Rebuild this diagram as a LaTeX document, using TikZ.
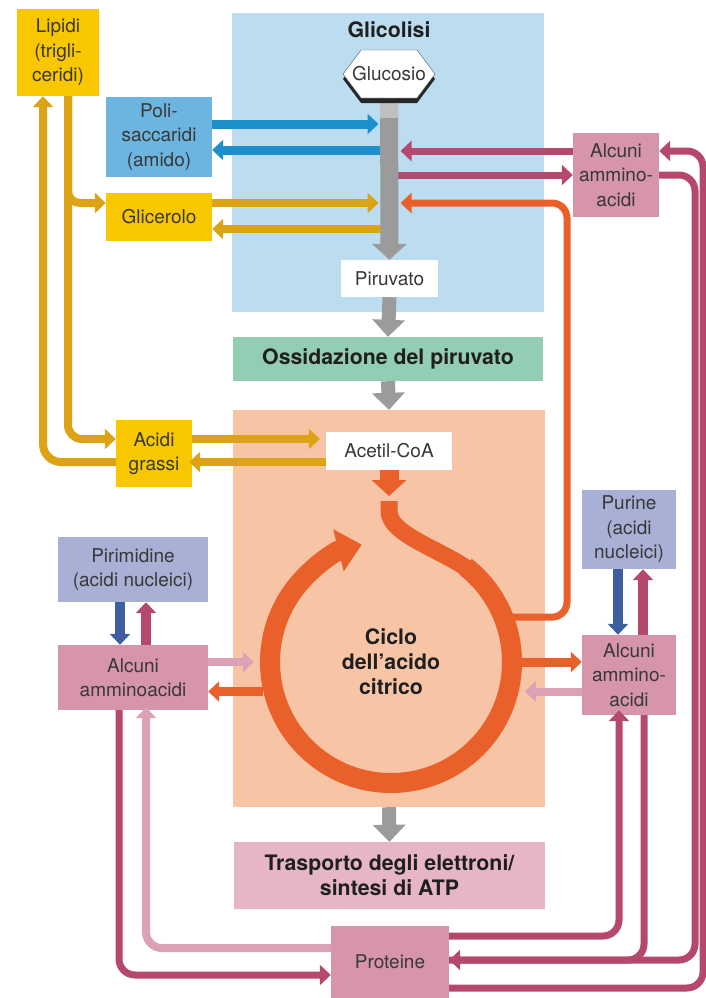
\documentclass[tikz,border=0pt]{standalone}
\usepackage{fontspec}
\setmainfont{TeX Gyre Heros}
\usetikzlibrary{arrows.meta,calc}

\definecolor{glycblue}{HTML}{BCDDF0}
\definecolor{polyblue}{HTML}{6CB5E1}
\definecolor{arrblue}{HTML}{1B90CB}
\definecolor{lipyellow}{HTML}{F9C700}
\definecolor{lipgold}{HTML}{DCA314}
\definecolor{oxgreen}{HTML}{93CDB4}
\definecolor{tcapeach}{HTML}{F7C5A6}
\definecolor{tcaorange}{HTML}{E9602B}
\definecolor{etcpink}{HTML}{E6B5C7}
\definecolor{aapink}{HTML}{D795AA}
\definecolor{aamagenta}{HTML}{B4486F}
\definecolor{aalight}{HTML}{DBA1B6}
\definecolor{nucblue}{HTML}{A9B0D6}
\definecolor{nucdark}{HTML}{3E5F9F}
\definecolor{flowgray}{HTML}{9B9B9B}

\tikzset{
  txt/.style={font=\fontsize{19}{24.5}\selectfont, text=black!78, align=center, inner sep=0pt},
  hdr/.style={font=\fontsize{21.3}{25}\selectfont\bfseries, text=black!88, align=center, inner sep=0pt},
  arr/.style={-{Triangle[width=20pt,length=11pt]}},
  blueflow/.style={arr, draw=arrblue, line width=9pt},
  goldflow/.style={arr, draw=lipgold, line width=8pt},
  magflow/.style={arr, draw=aamagenta, line width=7pt},
  magline/.style={draw=aamagenta, line width=7pt},
  lightflow/.style={arr, draw=aalight, line width=8pt},
  orflow/.style={arr, draw=tcaorange, line width=9pt},
  nucflow/.style={arr, line width=10pt},
  grayflow/.style={draw=flowgray, line width=14pt, -{Triangle[width=32pt,length=17pt]}}
}

\begin{document}
\begin{tikzpicture}[x=1pt,y=1pt]
\useasboundingbox (0,0) rectangle (705,-998);

% stages
\node[fill=glycblue, minimum width=312pt, minimum height=299pt] (glyc) at (388,-162.5) {};
\node[hdr] (glyctitle) at (389,-30) {Glicolisi};
\node[hdr, fill=oxgreen, minimum width=310pt, minimum height=44pt] (ossid) at (388,-359) {Ossidazione del piruvato};
\node[fill=tcapeach, minimum width=312pt, minimum height=397pt] (tca) at (389,-608.5) {};
\node[hdr, fill=etcpink, minimum width=311pt, minimum height=67pt] (trasp) at (389.5,-875.5) {Trasporto degli elettroni/\\sintesi di ATP};

% molecules
\node[txt, fill=white, minimum width=97pt, minimum height=37pt] (piru) at (389.5,-278.5) {Piruvato};
\node[txt, fill=white, minimum width=126pt, minimum height=38pt] (ace) at (389,-451) {Acetil-CoA};
\node[txt, fill=lipyellow, minimum width=82pt, minimum height=87pt] (lip) at (58,-52.5) {Lipidi\\(trigli-\\ceridi)};
\node[txt, fill=polyblue, minimum width=106pt, minimum height=80pt] (poli) at (159,-137) {Poli-\\saccaridi\\(amido)};
\node[txt, fill=lipyellow, minimum width=106pt, minimum height=48pt] (glic) at (159,-217) {Glicerolo};
\node[txt, fill=lipyellow, minimum width=76pt, minimum height=67pt] (acg) at (154,-453.5) {Acidi\\grassi};
\node[txt, fill=nucblue, minimum width=150pt, minimum height=65pt] (pir) at (133,-569.5) {Pirimidine\\(acidi nucleici)};
\node[txt, fill=aapink, minimum width=150pt, minimum height=65pt] (alm) at (133,-677.5) {Alcuni\\amminoacidi};
\node[txt, fill=nucblue, minimum width=94pt, minimum height=79pt] (pur) at (629,-529.5) {Purine\\(acidi\\nucleici)};
\node[txt, fill=aapink, minimum width=94pt, minimum height=80pt] (amr) at (629,-675) {Alcuni\\ammino-\\acidi};
\node[txt, fill=aapink, minimum width=86pt, minimum height=84pt] (atr) at (616,-175) {Alcuni\\ammino-\\acidi};
\node[txt, fill=aapink, minimum width=118pt, minimum height=72pt] (prot) at (390,-962) {Proteine};
\node[hdr, circle, minimum size=262pt] (ciclo) at (391,-662) {Ciclo\\dell’acido\\citrico};

\coordinate (gluc) at (389,-74);
\coordinate (barW) at ([xshift=-11pt]piru.north);
\coordinate (barE) at ([xshift=11pt]piru.north);
\coordinate (entry) at (389,-501);
\coordinate (orturn) at (567,-203);
\coordinate (rimI) at (695,-560);
\coordinate (rimO) at (703,-560);

% into and out of glycolysis
\draw[blueflow] ([yshift=13pt]poli.east) -- ([yshift=13pt]poli.east -| barW);
\draw[blueflow] ([yshift=-13pt]poli.east -| piru) -- ([yshift=-13pt]poli.east);
\draw[goldflow] ([yshift=14pt]glic.east) -- ([yshift=14pt]glic.east -| barW);
\draw[goldflow] ([yshift=-12pt]glic.east -| piru) -- ([yshift=-12pt]glic.east);
\draw[magflow] ([yshift=24pt]atr.west) -- ([yshift=24pt]atr.west -| barE);
\draw[magflow] (atr.west -| piru) -- (atr.west);

% glycolysis bar
\draw[draw=flowgray, line width=18pt, -{Triangle[width=34pt,length=16pt]}] (gluc) -- (piru.north);
\draw[draw=black!25, line width=18pt] (gluc) -- ($(gluc)+(0,-44)$);
\fill[black!85] ($(gluc)+(-46,-5)$) -- ++(18,24) -- ++(56,0) -- ++(18,-24) -- ++(-18,-24) -- ++(-56,0) -- cycle;
\draw[draw=black!70, fill=white] ($(gluc)+(-46,0)$) -- ++(18,24) -- ++(56,0) -- ++(18,-24) -- ++(-18,-24) -- ++(-56,0) -- cycle;
\node[txt, minimum height=48pt] (glu) at (gluc) {Glucosio};

% main line
\draw[grayflow] (piru.south) -- (ossid.north);
\draw[grayflow] (ossid.south) -- (tca.north);
\draw[grayflow] (tca.south) -- (trasp.north);

% lipids
\draw[goldflow, rounded corners=18pt] ([yshift=-8.5pt]acg.west) -| ([xshift=-15pt]lip.south);
\draw[goldflow, rounded corners=14pt] ([xshift=10pt]lip.south) |- ([yshift=14.5pt]acg.west);
\draw[goldflow, rounded corners=12pt] ([xshift=10pt]lip.south) |- ([yshift=14pt]glic.west);
\draw[goldflow, shorten >=6pt] ([yshift=14.5pt]acg.east) -- ([yshift=14.5pt]acg.east -| ace.west);
\draw[goldflow, shorten >=-3pt] ([yshift=-8.5pt]acg.east -| ace.west) -- ([yshift=-8.5pt]acg.east);

% citric acid cycle
\draw[orflow, line width=7pt, rounded corners=15pt] ([xshift=-10pt]ciclo.20) -| (orturn) -- (orturn -| barE);
\draw[draw=tcaorange, line width=19pt, -{Triangle[width=34pt,length=16pt]}, shorten >=5pt] (ace.south) -- (entry);
\coordinate (ringjoin) at ($(ciclo.center)+(45:121pt)$);
\draw[draw=tcaorange, line width=17pt] (entry) -- ($(entry)+(0,-10)$) .. controls ($(entry)+(0,-36)$) and ($(ringjoin)+(-24,24)$) .. (ringjoin);
\draw[draw=tcaorange, line width=20pt, -{Triangle[width=42pt,length=24pt]}] ($(ciclo.center)+(52:121pt)$) arc[start angle=52, end angle=-256, radius=121pt];
\draw[orflow] (ciclo.east) -- (ciclo.east -| amr.west);
\draw[lightflow] (amr.west |- ciclo.-13) -- ([xshift=6pt]ciclo.-13);
\draw[lightflow] (alm.east |- ciclo.west) -- ([xshift=-6pt]ciclo.west);
\draw[orflow] (ciclo.193) -- (ciclo.193 -| alm.east);

% nucleotides
\draw[nucflow, draw=nucdark] ([xshift=-13pt]pir.south) -- ([xshift=-13pt]alm.north);
\draw[nucflow, draw=aamagenta] ([xshift=13pt]alm.north) -- ([xshift=13pt]pir.south);
\draw[nucflow, draw=nucdark] ([xshift=-11pt]pur.south) -- ([xshift=-11pt]amr.north);
\draw[nucflow, draw=aamagenta] ([xshift=14pt]amr.north) -- ([xshift=14pt]pur.south);

% proteins
\draw[magflow, rounded corners=16pt] ([yshift=-26pt]prot.east) -| (rimO) |- ([yshift=24pt]atr.east);
\draw[magline, rounded corners=16pt] ([xshift=15pt]amr.south) |- ([yshift=2pt]prot.east);
\draw[magflow, rounded corners=16pt] (atr.east) -| (rimI) |- ([yshift=2pt]prot.east);
\draw[magflow, rounded corners=16pt, shorten >=-5pt] ([yshift=26pt]prot.east) -| ([xshift=-10pt]amr.south);
\draw[magflow, rounded corners=16pt] ([xshift=-14pt]alm.south) |- ([yshift=-13pt]prot.west);
\draw[lightflow, rounded corners=16pt, shorten >=-3pt] ([yshift=14pt]prot.west) -| ([xshift=13pt]alm.south);
\end{tikzpicture}
\end{document}
